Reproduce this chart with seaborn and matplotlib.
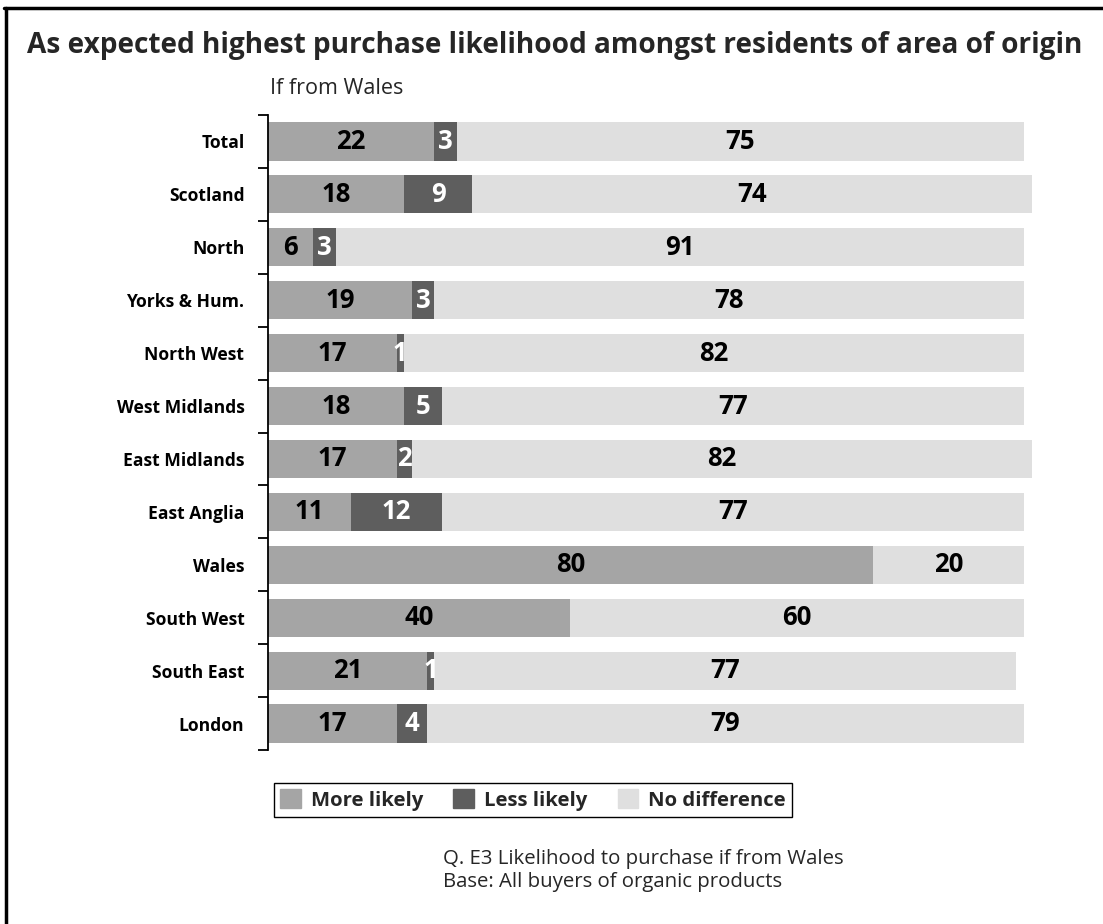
import matplotlib
matplotlib.use("Agg")
import matplotlib.pyplot as plt
import matplotlib.patches as mpatches
import matplotlib.lines as mlines
import numpy as np
import pandas as pd
import seaborn as sns

regions = ["Total", "Scotland", "North", "Yorks & Hum.", "North West",
           "West Midlands", "East Midlands", "East Anglia", "Wales",
           "South West", "South East", "London"]
more_likely = [22, 18, 6, 19, 17, 18, 17, 11, 80, 40, 21, 17]
less_likely = [3, 9, 3, 3, 1, 5, 2, 12, 0, 0, 1, 4]
no_difference = [75, 74, 91, 78, 82, 77, 82, 77, 20, 60, 77, 79]
series_names = ["More likely", "Less likely", "No difference"]

c_more = "#a5a5a5"
c_less = "#5e5e5e"
c_none = "#dfdfdf"

sns.set_theme(style="white")
plt.rcParams["font.family"] = ["Open Sans", "DejaVu Sans"]

df = pd.DataFrame({"region": regions, "more": more_likely,
                   "less": less_likely, "none": no_difference})
df["cum_less"] = df["more"] + df["less"]
df["cum_all"] = df["cum_less"] + df["none"]

W, H = 1103, 924
fig = plt.figure(figsize=(W / 100, H / 100), dpi=100)

# plot area in pixel terms: zero at x=268, 100% at x=1024
x0, px_per = 268, 7.56
xmax = 102
ax = fig.add_axes([x0 / W, 1 - 750 / H, xmax * px_per / W, 635 / H])

bar_w = 0.72
sns.barplot(data=df, y="region", x="cum_all", color=c_none, orient="h",
            width=bar_w, saturation=1, ax=ax, linewidth=0)
sns.barplot(data=df, y="region", x="cum_less", color=c_less, orient="h",
            width=bar_w, saturation=1, ax=ax, linewidth=0)
sns.barplot(data=df, y="region", x="more", color=c_more, orient="h",
            width=bar_w, saturation=1, ax=ax, linewidth=0)

ax.set_xlim(0, xmax)
ax.set_ylim(len(regions) - 0.5, -0.5)
ax.set_xlabel("")
ax.set_ylabel("")
ax.set_xticks([])
for s in ["top", "right", "bottom"]:
    ax.spines[s].set_visible(False)
ax.spines["left"].set_color("black")
ax.spines["left"].set_linewidth(1.3)

ax.set_yticks(range(len(regions)))
ax.set_yticklabels(regions, fontsize=12.6, fontweight="bold", color="black")
ax.set_yticks(np.arange(-0.5, len(regions), 1), minor=True)
ax.tick_params(axis="y", which="major", length=0, pad=17)
ax.tick_params(axis="y", which="minor", length=7, width=1.3, color="black",
               direction="out", left=True)

# value labels centred in each segment
for i, row in df.iterrows():
    segs = [(0, row["more"], "black"),
            (row["more"], row["less"], "white"),
            (row["cum_less"], row["none"], "black")]
    for start, val, col in segs:
        if val > 0:
            ax.text(start + val / 2, i, f"{val}", ha="center", va="center",
                    fontsize=18.5, fontweight="bold", color=col)

# headings
fig.text(27 / W, 1 - 45 / H,
         "As expected highest purchase likelihood amongst residents of area of origin",
         fontsize=20.2, fontweight="bold", ha="left", va="center")
fig.text(270 / W, 1 - 88 / H, "If from Wales", fontsize=15.5, ha="left",
         va="center")

# legend
handles = [mpatches.Patch(color=c, label=n)
           for c, n in zip([c_more, c_less, c_none], series_names)]
leg = fig.legend(handles=handles, loc="center", ncol=3,
                 bbox_to_anchor=(533 / W, 1 - 800 / H), frameon=True,
                 fancybox=False, edgecolor="black", framealpha=1,
                 prop={"weight": "bold", "size": 14.6}, handlelength=1.0,
                 handleheight=1.0, handletextpad=0.5, columnspacing=1.5,
                 borderpad=0.3, borderaxespad=0)
leg.get_frame().set_linewidth(1.0)

# notes
fig.text(443 / W, 1 - 859 / H, "Q. E3 Likelihood to purchase if from Wales",
         fontsize=14.7, ha="left", va="center")
fig.text(443 / W, 1 - 882 / H, "Base: All buyers of organic products",
         fontsize=14.7, ha="left", va="center")

# frame lines along left and top edges
fig.add_artist(mlines.Line2D([5.5 / W, 5.5 / W], [0, 1 - 7.5 / H],
                             transform=fig.transFigure, color="black", lw=2.5))
fig.add_artist(mlines.Line2D([4 / W, 1], [1 - 7.5 / H, 1 - 7.5 / H],
                             transform=fig.transFigure, color="black", lw=2.5))

fig.savefig("out.png", dpi=100)
